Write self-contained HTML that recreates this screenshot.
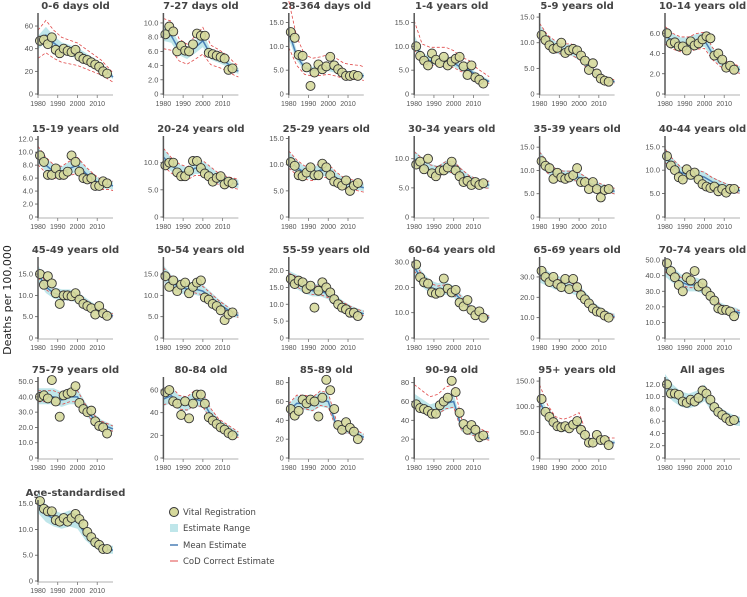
<!DOCTYPE html>
<html><head><meta charset="utf-8">
<style>
html,body{margin:0;padding:0;background:#fff;}
svg{display:block;font-family:"DejaVu Sans","Liberation Sans",sans-serif;}
</style></head>
<body>
<svg id="chart" width="747" height="597" viewBox="0 0 747 597" xmlns="http://www.w3.org/2000/svg">
<text x="0" y="0" transform="translate(11,300) rotate(-90)" text-anchor="middle" font-size="11" fill="#222">Deaths per 100,000</text>
<g>
 <g><circle cx="174" cy="512" r="4.5" fill="#d6d99c" stroke="#333" stroke-width="1"/><text x="183" y="515" font-size="8.5" fill="#444">Vital Registration</text></g>
 <g><rect x="170" y="524" width="8" height="8" fill="#bfe6ea"/><text x="183" y="531" font-size="8.5" fill="#444">Estimate Range</text></g>
 <g><line x1="170" y1="545" x2="178" y2="545" stroke="#4a7fb5" stroke-width="1.5"/><text x="183" y="548" font-size="8.5" fill="#444">Mean Estimate</text></g>
 <g><line x1="170" y1="561" x2="178" y2="561" stroke="#e04848" stroke-width="1"/><text x="183" y="564" font-size="8.5" fill="#444">CoD Correct Estimate</text></g>
</g>
</svg>
<script>
const titles=["0-6 days old","7-27 days old","28-364 days old","1-4 years old","5-9 years old","10-14 years old","15-19 years old","20-24 years old","25-29 years old","30-34 years old","35-39 years old","40-44 years old","45-49 years old","50-54 years old","55-59 years old","60-64 years old","65-69 years old","70-74 years old","75-79 years old","80-84 old","85-89 old","90-94 old","95+ years old","All ages","Age-standardised"];
const yMaxes=[71.5,11.4,17,17,15.8,8.0,12.5,14.9,15.5,13.9,17.4,17.3,19,19,24,32,39.8,52,53,71.5,86,86,158,13.2,15.7];
const tickSets=[[0,20,40,60],[0,2,4,6,8,10],[0,5,10,15],[0,5,10,15],[0,5,10,15],[0,2,4,6],[0,2,4,6,8,10,12],[0,5,10],[0,5,10,15],[0,5,10],[0,5,10,15],[0,5,10,15],[0,5,10,15],[0,5,10,15],[0,5,10,15,20],[0,10,20,30],[0,10,20,30],[0,10,20,30,40,50],[0,10,20,30,40,50],[0,20,40,60],[0,20,40,60,80],[0,20,40,60,80],[0,50,100,150],[0,2,4,6,8,10,12],[0,5,10,15]];
const intTicks=[0,19,20,21];
const vrYears=[1981,1983,1985,1987,1989,1991,1993,1995,1997,1999,2001,2003,2005,2007,2009,2011,2013,2015];
const meanYears=[1980,1984,1988,1992,1996,2000,2004,2008,2012,2016,2018];
const vrValues=[
[47,48,44,50,39,36,40,38,37,39,33,31,30,28,26,24,20,18],
[8.4,9.5,8.8,6.0,6.8,6.1,6.0,7.0,8.5,8.2,8.2,5.8,5.6,5.4,5.2,5.0,3.4,3.6],
[13,11.8,8.2,8.0,5.6,1.7,4.5,6.2,5.2,5.8,7.8,6.0,5.2,4.5,3.8,3.8,4.0,3.8],
[10,8,7,6,8.5,7.2,6.5,7.8,6,6.8,7.4,7.8,5.8,4,6,3.5,3,2.2],
[11.5,10.5,9.5,8.8,9.0,10,8,8.5,8.8,8.5,7.5,6.5,4.7,6,4,3,2.6,2.4],
[6.0,5.0,5.1,4.7,4.7,4.3,5.2,4.8,5.0,5.4,5.7,5.5,3.8,4,3.4,2.6,2.8,2.4],
[9.5,8.5,6.5,6.5,7.5,6.5,6.5,7.0,9.5,8.5,7.0,6.0,5.8,6.0,4.8,4.8,5.5,5.2],
[9.5,10,10,8.2,7.5,7.5,8.5,10.3,10.3,9,8,7.5,6.5,7.2,7.5,6,6.5,6.2],
[10.5,9.8,8,7.8,8.5,9.5,8,8,10.2,9.5,8,6.8,6.5,6,7,5,6,6.5],
[9,9.5,8.2,10,7.5,7,8,8,8.5,9.5,8,7,6,6.2,5.5,6,5.5,5.8],
[12,11,10.5,8.2,9.5,8.5,8.2,8.5,9,10.5,7.5,7.5,6,7.5,6,4.2,5.8,6],
[13,11,10,8.5,8,10.2,9,9.5,8,7,6.5,6.2,6.5,5.5,6,5.2,6,6],
[15,12.5,14.5,12.8,10.5,8,10,10,9.8,10.5,9,8,7.5,7,5.5,7.5,5.8,5.2],
[14.5,12,13.5,11,12.5,13,10.5,12,13,13.5,9.5,9,8,7.5,6.5,4.2,5.5,6],
[17.5,16,17,16.5,14.5,15.5,9,14,16.5,15,13.5,11.5,10,9,8.5,7.5,7.5,6.5],
[29,24,22,21.5,18,17.5,18,23.5,19.5,18,19,14,12.5,15,11,9,10.5,8],
[33,30,27.5,30,26.5,25,29,24,29,25,21,19,17,14.5,13,12.5,11,10],
[48,43,39,34,30,39,37,43,33,35,30,27,24,19,18,18,17,14],
[40,41,39,51,37,27,41,42,43,47,36,32,30,31,24,21,20,16],
[58,60,50,48,38,50,35,48,56,56,48,36,33,30,27,25,22,20],
[52,45,50,62,58,62,60,44,64,83,72,52,35,30,38,32,28,20],
[57,53,52,50,47,47,56,60,64,82,70,48,36,30,35,30,22,24],
[115,90,80,70,62,60,62,58,65,72,55,45,30,30,45,35,35,25],
[12,10.5,10.5,10.3,9.2,9.0,9.5,9.2,9.8,11,10.5,9.5,8.3,7.5,7,6.5,6,6.2],
[15.5,14,13.5,13.5,11.8,11.5,12.2,11.5,12.2,13,12,11,9.5,8.5,7.5,7,6.2,6.2]];
const meanValues=[
[45,52,45,40,38,36,32,28,24,18,15],
[8.5,8.2,6.2,5.6,6.5,7.5,5.5,5.0,4.4,3.5,3.2],
[13,8,5.5,5,5.2,5.5,5,4.3,4.1,4,3.8],
[11,7.5,7,7,7,6.5,5.5,5,3.8,3,2.6],
[12,10,9,8.5,8.5,7.5,5.5,4,3,2.6,2.4],
[5.8,5.2,4.9,4.9,5.2,5.3,4.0,3.2,2.7,2.5,2.4],
[9.5,8,7,6.8,7.5,8,6.8,5.8,5,5,4.8],
[11,9.5,8.5,8,9,9,8,7,6.5,6.2,6.0],
[11,9.5,8.5,8.2,9,8.8,7.5,6.5,6.2,5.8,5.6],
[10,9,8,7.7,8.5,8.5,7.3,6.3,5.8,5.5,5.5],
[12.5,10.5,9.3,8.8,8.8,8.5,7.5,6.8,6.2,5.8,5.5],
[13,11,9.5,9,9,8.5,7.5,6.8,6.2,5.8,5.6],
[15,12,10.5,10,10,9.5,8.3,7.2,6.2,5.5,5.2],
[15,13,12,11.5,11.5,11,9.5,8,6.8,5.5,5.3],
[17.5,16.5,15,14,14,13,11,9.5,8.3,7.5,7.2],
[28,23,20,19,19.5,18,15,12,10,8.5,8],
[31,29,27,26,25,23,19,15,12.5,11,10.5],
[45,40,36,34,34,32,26,20,18,17,16],
[40,40,40,38,40,40,32,26,22,20,19],
[52,55,48,47,52,50,38,30,26,22,20],
[50,58,58,56,62,60,35,30,28,24,22],
[60,55,50,52,58,60,32,28,25,22,21],
[110,80,62,58,62,68,35,32,32,30,30],
[12,10.5,9.5,9.2,9.6,10.5,8.5,7.2,6.5,6,5.9],
[15,13,12,11.5,12,11.5,9,7.5,6.5,6,6]];
const codUp=[1.25,1.25,1.5,1.4,1.15,1.15,1.15,1.15,1.15,1.12,1.12,1.12,1.08,1.1,1.1,1.08,1.08,1.08,1.1,1.15,1.15,1.3,1.3,1.0,1.0];
const codDown=[0.7,0.75,0.75,0.85,0.9,0.85,0.85,0.85,0.85,0.9,0.9,0.9,0.95,0.92,0.92,0.95,0.95,0.95,0.92,0.9,0.9,0.9,0.95,1.0,1.0];

const NS="http://www.w3.org/2000/svg";
const svg=document.getElementById('chart');
const rowZero=[94,217,338,458,581];
function mk(tag,attrs,parent){const e=document.createElementNS(NS,tag);for(const k in attrs)e.setAttribute(k,attrs[k]);parent.appendChild(e);return e;}
titles.forEach((title,i)=>{
  const c=i%6,r=Math.floor(i/6);
  const ox=38+c*125.4, zero=rowZero[r], top=zero-81;
  const ymax=yMaxes[i];
  const xs=yr=>ox+(yr-1980)*(75/38);
  const ys=v=>zero-(v/ymax)*81;
  const g=mk('g',{},svg);
  
  
  const t=mk('text',{x:ox+37.5,y:zero-85,'text-anchor':'middle','font-size':'10','font-weight':'bold',fill:'#444'},g);
  t.textContent=title;
  
  
  const m=meanValues[i];
  let up=meanYears.map((y,k)=>xs(y)+','+ys(m[k]*1.14));
  let dn=meanYears.map((y,k)=>xs(y)+','+ys(m[k]*0.88)).reverse();
  const band=mk('polygon',{points:up.concat(dn).join(' '),fill:'#bfe6ea'},g);
  
  
  if(codUp[i]!==1){
    const ch=mk('polyline',{points:meanYears.map((y,k)=>xs(y)+','+ys(m[k]*codUp[i])).join(' '),fill:'none',stroke:'#e04848','stroke-width':'0.8','stroke-dasharray':'3,2'},g);
    
    
    const cl=mk('polyline',{points:meanYears.map((y,k)=>xs(y)+','+ys(m[k]*codDown[i])).join(' '),fill:'none',stroke:'#e04848','stroke-width':'0.8','stroke-dasharray':'3,2'},g);
    
    
  }
  const ml=mk('polyline',{points:meanYears.map((y,k)=>xs(y)+','+ys(m[k])).join(' '),fill:'none',stroke:'#4a7fb5','stroke-width':'1.5'},g);
  
  
  vrValues[i].forEach((v,k)=>{
    const p=mk('circle',{cx:xs(vrYears[k]),cy:ys(v),r:4.5,fill:'#d6d99c','fill-opacity':'0.9',stroke:'#333','stroke-width':'0.9'},g);
    
    
  });
  const ya=mk('line',{x1:ox,y1:top,x2:ox,y2:zero+1,stroke:'#555','stroke-width':'1.5'},g);
  
  
  const xa=mk('line',{x1:ox,y1:zero+1,x2:ox+75,y2:zero+1,stroke:'#999','stroke-width':'0.8'},g);
  
  
  tickSets[i].forEach(tv=>{
    mk('line',{x1:ox-3,y1:ys(tv),x2:ox,y2:ys(tv),stroke:'#555','stroke-width':'0.8'},g);
    const tl=mk('text',{x:ox-5,y:ys(tv)+2.5,'text-anchor':'end','font-size':'7.5','font-family':'Liberation Sans, sans-serif',fill:'#555'},g);
    tl.textContent=(tv===0||intTicks.includes(i))?String(tv):tv.toFixed(1);
    
    
  });
  [1980,1990,2000,2010].forEach(yr=>{
    mk('line',{x1:xs(yr),y1:zero+1,x2:xs(yr),y2:zero+4,stroke:'#777','stroke-width':'0.8'},g);
    const xl=mk('text',{x:xs(yr),y:zero+12,'text-anchor':'middle','font-size':'7','font-family':'Liberation Sans, sans-serif',fill:'#555'},g);
    xl.textContent=String(yr);
    
    
  });
});
</script>
</body></html>
